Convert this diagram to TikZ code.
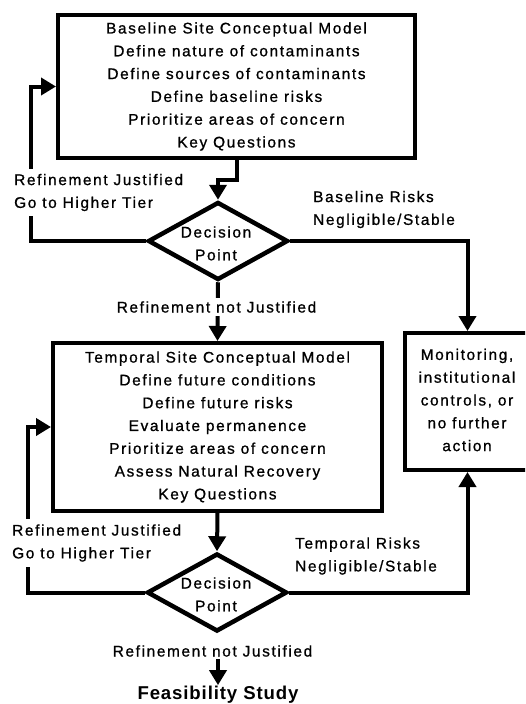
\documentclass[tikz,border=0pt]{standalone}
\usepackage{fontspec}
\setmainfont{Liberation Sans}[LetterSpace=10.6, FakeBold=0.9]
\newfontfamily\titlefont{Liberation Sans}[LetterSpace=4.7]
\usetikzlibrary{arrows.meta,shapes.geometric}

\begin{document}
\begin{tikzpicture}[x=1pt,y=-1pt,
  txt/.style={font=\fontsize{15.4pt}{22.8pt}\selectfont, align=center, inner sep=0pt},
  box/.style={txt, draw, line width=4pt, rectangle},
  decision/.style={draw, diamond, line width=4.5pt, inner sep=0pt,
    minimum width=140pt, minimum height=78pt},
  lab/.style={font=\fontsize{15.4pt}{22.8pt}\selectfont, align=left,
    fill=white, inner xsep=2pt, inner ysep=5pt},
  midlab/.style={font=\fontsize{15.4pt}{22.8pt}\selectfont, align=center,
    fill=white, inner xsep=2pt, inner ysep=3pt},
  conn/.style={line width=4pt, -{Triangle[length=15pt,width=17pt]}}]

\useasboundingbox (0,0) rectangle (525,704);
\fill[white] (0,0) rectangle (525,704);
\clip (0,0) rectangle (525,704);

% boxes
\node[box, minimum width=357pt, minimum height=143pt] (b1) at (236.5,86.5)
  {Baseline Site Conceptual Model\\Define nature of contaminants\\Define sources of contaminants\\Define baseline risks\\Prioritize areas of concern\\Key Questions};
\node[box, minimum width=329pt, minimum height=168pt] (b2) at (217.5,427)
  {Temporal Site Conceptual Model\\Define future conditions\\Define future risks\\Evaluate permanence\\Prioritize areas of concern\\Assess Natural Recovery\\Key Questions};
\node[box, minimum width=125pt, minimum height=137pt] (mon) at (467.5,401.5) {};
\node[txt] (montxt) at (467,400) {Monitoring,\\institutional\\controls, or\\no further\\action};

% decision points
\node[decision] (d1) at (218,241) {};
\node[txt] (d1txt) at (216,243.4) {Decision\\Point};
\node[decision] (d2) at (217,592.5) {};
\node[txt] (d2txt) at (216,594.4) {Decision\\Point};

% connectors
\draw[conn] (b1.south) -- ++(0,20) -| (d1.north);
\draw[conn] (d1.south) -- (b2.north);
\draw[conn] (b2.south) -- (d2.north);
\draw[conn] (d1.east) -| (mon.north);
\draw[conn] (d2.east) -| (mon.south);
\draw[conn] (d1.west) -| ([xshift=-25pt]b1.west) -- (b1.west);
\draw[conn] (d2.west) -| ([xshift=-23pt]b2.west) -- (b2.west);

% branch labels
\node[lab, anchor=west] (rj1) at (12,192.5) {Refinement Justified\\Go to Higher Tier};
\node[lab, anchor=west, fill=none] (br) at (311,209.5) {Baseline Risks\\Negligible/Stable};
\node[midlab] (rn1) at (216.5,307) {Refinement not Justified};
\node[lab, anchor=west] (rj2) at (10,543) {Refinement Justified\\Go to Higher Tier};
\node[lab, anchor=west, fill=none] (tr) at (293,556) {Temporal Risks\\Negligible/Stable};
\node[midlab, fill=none, inner ysep=2pt] (rn2) at (212.5,651) {Refinement not Justified};
\node[font=\titlefont\bfseries\fontsize{18.6pt}{22pt}\selectfont, inner sep=1pt] (fs) at (218,695) {Feasibility Study};
\draw[conn] (fs.north |- rn2.south) -- (fs.north);

\end{tikzpicture}
\end{document}
